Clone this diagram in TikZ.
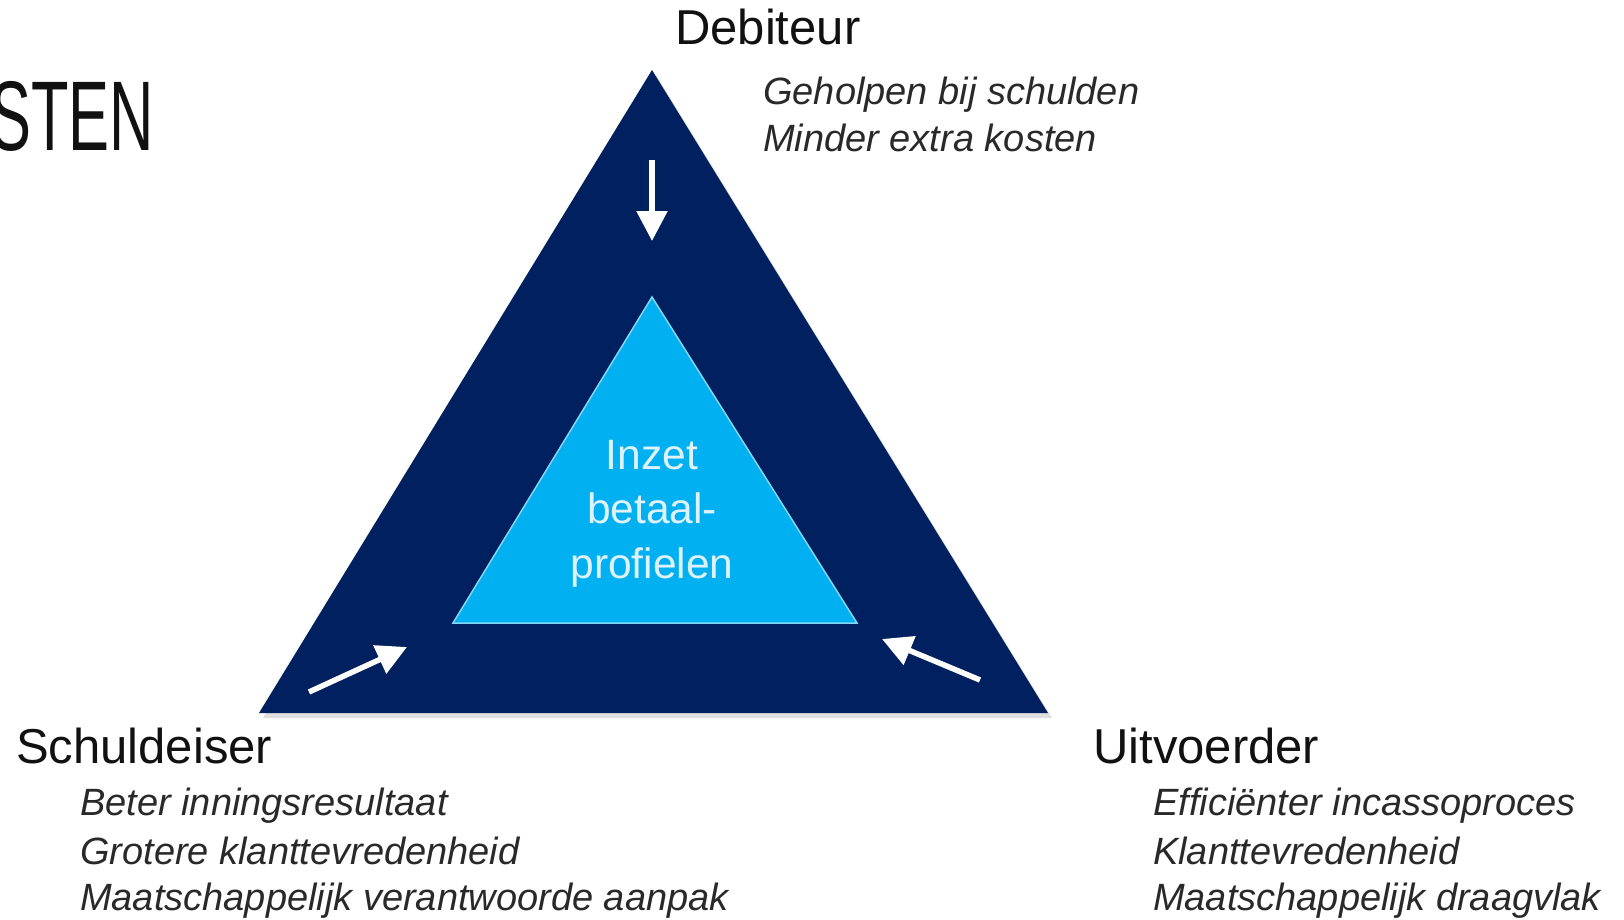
\documentclass[tikz,border=0pt]{standalone}
\usepackage{graphicx}
\usepackage{fontspec}
\setmainfont{Liberation Sans}
\usetikzlibrary{arrows.meta}

\definecolor{navy}{RGB}{0,32,96}
\definecolor{sky}{RGB}{0,176,240}
\definecolor{skyedge}{RGB}{130,214,246}
\definecolor{pale}{RGB}{222,242,252}
\definecolor{ink}{RGB}{17,17,17}

\begin{document}
\begin{tikzpicture}[x=1pt, y=-1pt,
		head/.style={anchor=base west, inner sep=0pt, text=ink, font=\fontsize{49}{58}\selectfont},
		item/.style={anchor=base west, inner sep=0pt, text=ink!90, font=\fontsize{38}{45}\selectfont\itshape},
		core/.style={anchor=base, inner sep=0pt, text=pale, font=\fontsize{42.5}{50}\selectfont},
		push/.style={-{Triangle[width=30pt,length=30pt]}, line width=5.5pt, white}]
		\useasboundingbox (0,0) rectangle (1624,919);
		
		\coordinate (top) at (652,70);
		\coordinate (bl)  at (259,713);
		\coordinate (br)  at (1048,713);
		\coordinate (itop) at (652,297);
		\coordinate (ibl)  at (453,623);
		\coordinate (ibr)  at (857,623);
		
		% Draw title
		\node[anchor=base east, inner sep=0pt, text=ink, font=\fontsize{99}{110}\selectfont] (title) at (154,150) {\scalebox{0.62}[1]{STEN}};
		
		% Draw triangles
		\fill[black!25, opacity=.5] ([shift={(4,5)}]top) -- ([shift={(4,5)}]bl) -- ([shift={(4,5)}]br) -- cycle;
		\fill[navy] (top) -- (bl) -- (br) -- cycle;
		\filldraw[fill=sky, draw=skyedge, line width=1.5pt] (itop) -- (ibl) -- (ibr) -- cycle;
		
		% Draw centre text
		\foreach \y/\l/\n in {469/Inzet/c1, 523/betaal-/c2, 578/profielen/c3}{
			\node[core] (\n) at (652,\y) {\l};
		}
		
		% Draw arrows
		\coordinate (a1) at (652,160);  \coordinate (b1) at (652,241);
		\coordinate (a2) at (309,692);  \coordinate (b2) at (407,647);
		\coordinate (a3) at (980,680);  \coordinate (b3) at (882,639);
		\foreach \i in {1,2,3}{
			\draw[push] (a\i) -- (b\i);
		}
		
		% Draw parties
		\node[head] (deb) at (675,44.5) {Debiteur};
		\node[head] (sch) at (16,763) {Schuldeiser};
		\node[head] (uit) at (1093,763) {Uitvoerder};
		
		\foreach \y/\l/\n in {104/Geholpen bij schulden/d1, 151/Minder extra kosten/d2}{
			\node[item] (\n) at (763,\y) {\l};
		}
		\foreach \y/\l/\n in {815/Beter inningsresultaat/s1, 864/Grotere klanttevredenheid/s2, 910/Maatschappelijk verantwoorde aanpak/s3}{
			\node[item] (\n) at (80,\y) {\l};
		}
		\foreach \y/\l/\n in {815/Efficiënter incassoproces/u1, 864/Klanttevredenheid/u2, 910/Maatschappelijk draagvlak/u3}{
			\node[item] (\n) at (1153,\y) {\l};
		}
	\end{tikzpicture}
\end{document}
